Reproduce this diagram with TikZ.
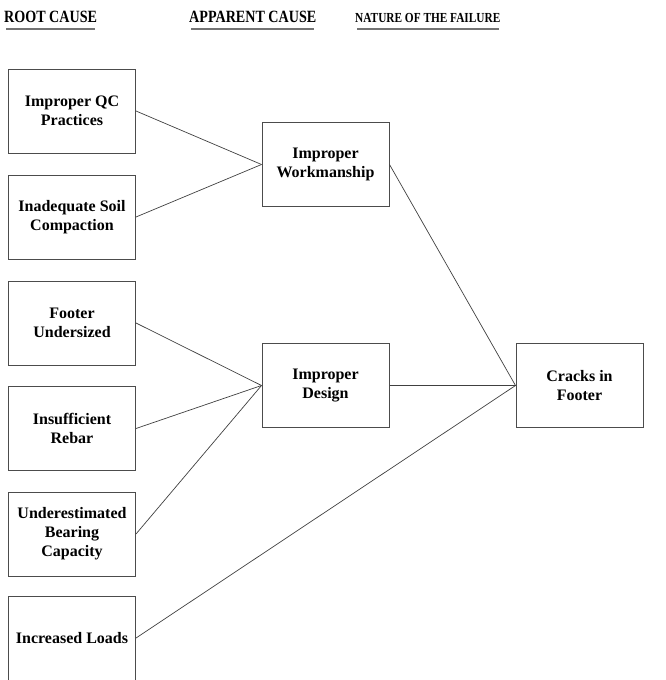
\documentclass[tikz,border=0pt]{standalone}
\usepackage{fontspec}
\setmainfont{Liberation Serif}
\newfontfamily\headfont[FakeStretch=0.82]{Liberation Serif}
\usetikzlibrary{positioning}

\begin{document}
\begin{tikzpicture}[x=1pt,y=-1pt,
        causebox/.style={draw=black!70,line width=1pt,minimum width=127pt,minimum height=84pt,
            align=center,inner sep=2pt,font=\fontsize{16}{19}\selectfont\bfseries},
        link/.style={draw=black!75,line width=0.7pt},
        heading/.style={anchor=base west,inner sep=0pt,font=\headfont\fontsize{17.2}{19}\selectfont\bfseries},
        headrule/.style={draw=black!55,line width=1.4pt}]
    \useasboundingbox (0,0) rectangle (665,680);
    % headings
    \node[heading] (root) at (4,23) {ROOT CAUSE};
    \node[heading] (appar) at (189,23) {APPARENT CAUSE};
    \node[heading,font=\headfont\fontsize{13.8}{16}\selectfont\bfseries] (nature) at (355,23) {NATURE OF THE FAILURE};
    \foreach \H in {root,appar,nature}
        \draw[headrule] ([shift={(2pt,-6pt)}]\H.base west) -- ([shift={(-2pt,-6pt)}]\H.base east);
    % root causes
    \node[causebox] (qc) at (72,111) {Improper QC\\Practices};
    \node[causebox] (soil) at (72,217) {Inadequate Soil\\Compaction};
    \node[causebox] (size) at (72,323) {Footer\\Undersized};
    \node[causebox] (rebar) at (72,428.5) {Insufficient\\Rebar};
    \node[causebox] (bear) at (72,534) {Underestimated\\Bearing\\Capacity};
    \node[causebox] (loads) at (72,638) {Increased Loads};
    % apparent causes
    \node[causebox] (work) at (325.5,164.5) {Improper\\Workmanship};
    \node[causebox] (design) at (325.5,385.5) {Improper\\Design};
    % failure
    \node[causebox] (cracks) at (579.5,385.5) {Cracks in\\Footer};
    % links
    \foreach \A in {qc,soil}
        \draw[link] (\A.east) -- (work.west);
    \foreach \A in {size,rebar,bear}
        \draw[link] (\A.east) -- (design.west);
    \foreach \A in {work,design,loads}
        \draw[link] (\A.east) -- (cracks.west);
\end{tikzpicture}
\end{document}
